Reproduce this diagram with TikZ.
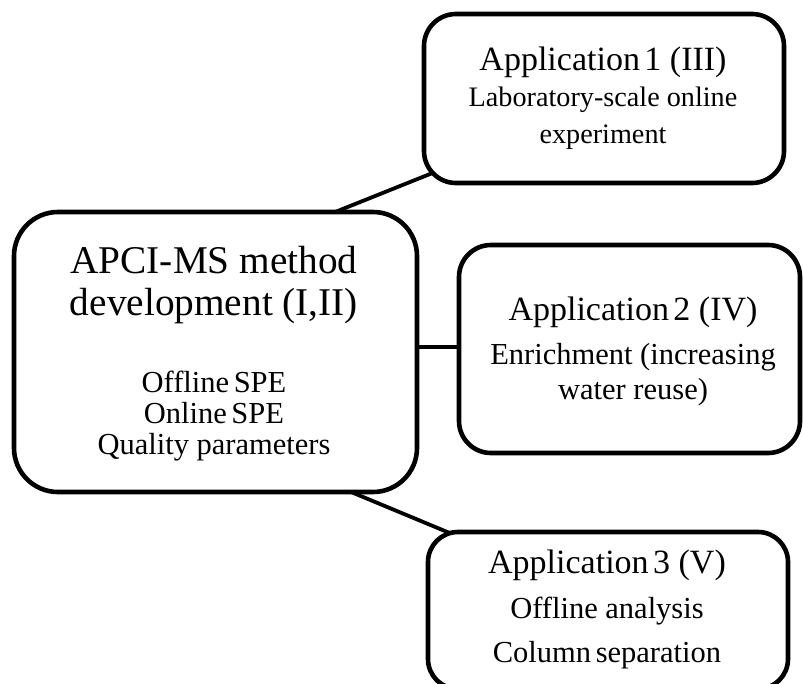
\documentclass[tikz,border=0pt]{standalone}
\usepackage{fontspec}
\setmainfont{Liberation Serif}
\usetikzlibrary{calc,backgrounds}
\tikzset{
  boxnode/.style={draw=black, line width=4.6pt, fill=white, inner sep=0pt},
  link/.style={draw=black, line width=3.8pt},
  txt/.style={anchor=base, inner sep=0pt, align=center},
  ttl/.style={txt, font=\fontsize{34}{38}\selectfont},
  bigttl/.style={txt, font=\fontsize{39.3}{44}\selectfont},
  sub/.style={txt, font=\fontsize{30.5}{34}\selectfont},
  subs/.style={txt, font=\fontsize{28.2}{32}\selectfont}
}
\begin{document}
\begin{tikzpicture}[x=1pt,y=-1pt]
\useasboundingbox (0,0) rectangle (803,683);
% boxes
\node[boxnode, rounded corners=44pt, minimum width=403pt, minimum height=280pt] (c) at (215.5,352) {};
\node[boxnode, rounded corners=32pt, minimum width=360pt, minimum height=169pt] (a1) at (604,98.5) {};
\node[boxnode, rounded corners=32pt, minimum width=341pt, minimum height=208pt] (a2) at (629.5,349) {};
\node[boxnode, rounded corners=30pt, minimum width=360pt, minimum height=157pt] (a3) at (608,610.5) {};
% connectors
\begin{scope}[on background layer]
\draw[link] ($(c.north)+(114.5,4.4)$) -- ($(a1.south)+(-164,-15.3)$);
\draw[link] ($(c.east)+(-10,-5)$) -- ($(a2.west)+(10,-2)$);
\draw[link] ($(c.south)+(132.5,-3.6)$) -- ($(a3.north)+(-153,5.5)$);
\end{scope}
% texts: application 1
\node[ttl] (a1t) at (603,70) {Application\hspace{0.13em}1 (III)};
\node[subs] (a1s1) at (603,106) {Laboratory-scale online};
\node[subs] (a1s2) at (603,143) {experiment};
% centre
\node[bigttl] (ct1) at (214,273) {APCI-MS method};
\node[bigttl] (ct2) at (214,315) {development (I,II)};
\node[sub] (cs1) at (214,392) {Offline\hspace{0.15em}SPE};
\node[sub] (cs2) at (214,423) {Online\hspace{0.15em}SPE};
\node[sub] (cs3) at (214,454) {Quality parameters};
% application 2
\node[ttl] (a2t) at (633,320) {Application\hspace{0.13em}2 (IV)};
\node[sub] (a2s1) at (633,364) {Enrichment (increasing};
\node[sub] (a2s2) at (633,399) {water reuse)};
% application 3
\node[ttl] (a3t) at (607,573) {Application\hspace{0.13em}3 (V)};
\node[sub] (a3s1) at (607,618) {Offline analysis};
\node[sub] (a3s2) at (607,662) {Column\hspace{0.15em}separation};
\end{tikzpicture}
\end{document}
